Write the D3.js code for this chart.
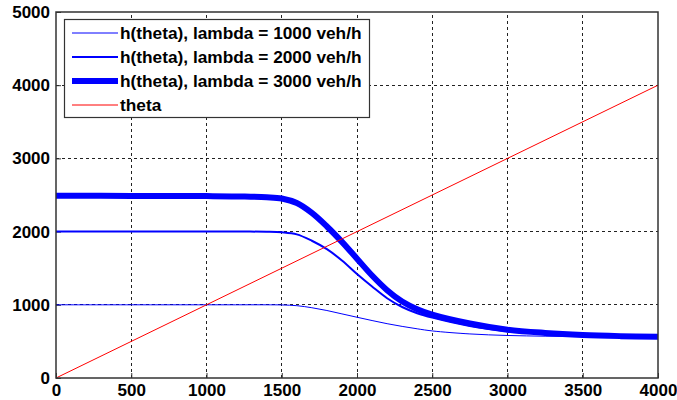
<!DOCTYPE html>
<html>
<head>
<meta charset="utf-8">
<script src="https://cdn.jsdelivr.net/npm/d3@7"></script>
<style>
  html, body { margin: 0; padding: 0; background: #fff; }
  svg { display: block; }
  text { font-family: "Liberation Sans", Arial, sans-serif; font-weight: bold; }
</style>
</head>
<body>
<svg id="chart" width="677" height="400"></svg>
<script>
// ---- Data ----
const theta = [0, 500, 1000, 1250, 1400, 1500, 1600, 1700, 1800, 1900, 2000, 2100, 2200, 2300, 2400, 2500, 2750, 3000, 3250, 3500, 3750, 4000];
const h1000 = [1000, 1000, 1000, 1000, 1000, 998, 988, 960, 922, 876, 830, 785, 742, 705, 672, 643, 602, 581, 571, 565, 560, 556];
const h2000 = [2000, 2000, 2000, 2000, 1998, 1990, 1962, 1875, 1760, 1605, 1420, 1250, 1090, 970, 885, 825, 710, 640, 606, 588, 576, 568];
const h3000 = [2490, 2488, 2485, 2480, 2470, 2452, 2390, 2255, 2070, 1860, 1630, 1400, 1200, 1045, 940, 866, 745, 660, 616, 588, 572, 562];
const thetaLine = [0, 4000];
const xTicks = [0, 500, 1000, 1500, 2000, 2500, 3000, 3500, 4000];
const yTicks = [0, 1000, 2000, 3000, 4000, 5000];
const legendLabels = ["h(theta), lambda = 1000 veh/h", "h(theta), lambda = 2000 veh/h", "h(theta), lambda = 3000 veh/h", "theta"];

const series = [
  { name: legendLabels[0], values: h1000, color: "#0000ff", width: 1 },
  { name: legendLabels[1], values: h2000, color: "#0000ff", width: 2 },
  { name: legendLabels[2], values: h3000, color: "#0000ff", width: 6 }
];

// ---- Layout ----
const svg = d3.select("#chart");
const margin = { left: 56, top: 12, right: 19, bottom: 22 };
const W = 677, H = 400;
const x = d3.scaleLinear().domain([0, 4000]).range([margin.left, W - margin.right]);
const y = d3.scaleLinear().domain([0, 5000]).range([H - margin.bottom, margin.top]);

// grid
const grid = svg.append("g");
grid.selectAll("line.vx").data(xTicks.slice(1, -1)).enter().append("line")
  .attr("x1", d => x(d)).attr("x2", d => x(d))
  .attr("y1", y(0)).attr("y2", y(5000))
  .attr("stroke", "#222").attr("stroke-width", 1).attr("stroke-dasharray", "3,3")
  .attr("shape-rendering", "crispEdges");
grid.selectAll("line.hy").data(yTicks.slice(1, -1)).enter().append("line")
  .attr("x1", x(0)).attr("x2", x(4000))
  .attr("y1", d => y(d)).attr("y2", d => y(d))
  .attr("stroke", "#222").attr("stroke-width", 1).attr("stroke-dasharray", "3,3")
  .attr("shape-rendering", "crispEdges");

// axes
const fmt = d3.format("d");
const xAxis = d3.axisBottom(x).tickValues(xTicks).tickFormat(fmt).tickSizeInner(-5).tickSizeOuter(0).tickPadding(6);
const yAxis = d3.axisLeft(y).tickValues(yTicks).tickFormat(fmt).tickSizeInner(-5).tickSizeOuter(0).tickPadding(6);
const gx = svg.append("g").attr("transform", `translate(0,${y(0)})`).call(xAxis);
const gy = svg.append("g").attr("transform", `translate(${x(0)},0)`).call(yAxis);
[gx, gy].forEach(g => {
  g.select(".domain").remove();
  g.selectAll(".tick line").attr("stroke", "#333");
  g.selectAll("text").attr("fill", "#000").style("font-size", "17px").style("font-weight", "bold")
    .style("font-family", "'Liberation Sans', Arial, sans-serif");
});
gx.selectAll("text").attr("dy", "0.68em");

// clip
svg.append("clipPath").attr("id", "clip").append("rect")
  .attr("x", x(0)).attr("y", y(5000)).attr("width", x(4000) - x(0)).attr("height", y(0) - y(5000));

const plot = svg.append("g").attr("clip-path", "url(#clip)");
const line = d3.line().x((d, i) => x(theta[i])).y(d => y(d)).curve(d3.curveCatmullRom.alpha(0.5));

series.forEach(s => {
  plot.append("path").datum(s.values)
    .attr("d", line)
    .attr("fill", "none")
    .attr("stroke", s.color)
    .attr("stroke-width", s.width)
    .attr("stroke-linejoin", "round");
});
plot.append("path").datum(thetaLine)
  .attr("d", d3.line().x(d => x(d)).y(d => y(d)))
  .attr("fill", "none").attr("stroke", "#ff0000").attr("stroke-width", 1);

// frame
svg.append("rect")
  .attr("x", x(0)).attr("y", y(5000)).attr("width", x(4000) - x(0)).attr("height", y(0) - y(5000))
  .attr("fill", "none").attr("stroke", "#333").attr("stroke-width", 1.5);

// legend
const leg = svg.append("g");
leg.append("rect").attr("x", 64.5).attr("y", 19.5).attr("width", 305).attr("height", 98)
  .attr("fill", "#fff").attr("stroke", "#333").attr("stroke-width", 1.2);
const legItems = series.map(s => ({ name: s.name, color: s.color, width: s.width }))
  .concat([{ name: legendLabels[3], color: "#ff0000", width: 1 }]);
const legY = d3.scaleLinear().domain([0, 3]).range([33, 105]);
legItems.forEach((d, i) => {
  leg.append("line").attr("x1", 72).attr("x2", 118).attr("y1", legY(i)).attr("y2", legY(i))
    .attr("stroke", d.color).attr("stroke-width", d.width);
  leg.append("text").attr("x", 120).attr("y", legY(i)).attr("dy", "0.36em")
    .style("font-size", "17.3px").attr("fill", "#000").text(d.name);
});
</script>
</body>
</html>
